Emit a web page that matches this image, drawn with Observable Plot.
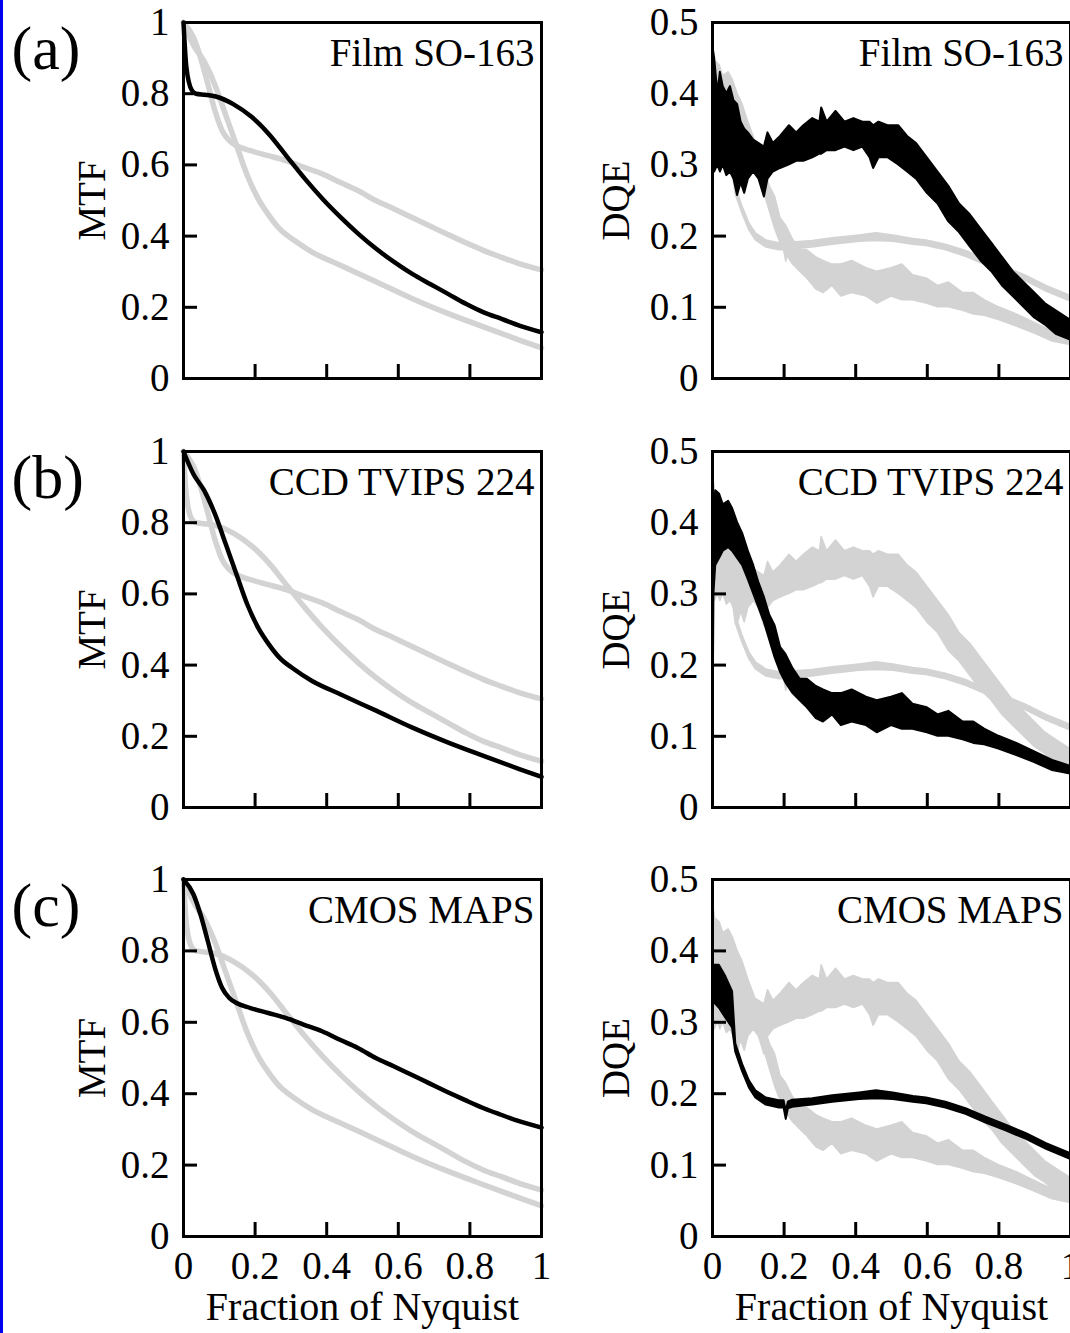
<!DOCTYPE html>
<html><head><meta charset="utf-8">
<script src="https://cdn.jsdelivr.net/npm/d3@7"></script>
<script src="https://cdn.jsdelivr.net/npm/@observablehq/plot@0.6"></script>
<style>
html,body{margin:0;padding:0;background:#fff;overflow:hidden}
#page{position:relative;width:1070px;height:1333px;overflow:hidden;background:#fff}
#page svg{position:absolute;overflow:visible}
#edge{position:absolute;left:0;top:0;width:3px;height:1333px;background:#0000f0;z-index:5}
</style></head><body><div id="page"><div id="edge"></div></div>
<script>
// ---------- data ----------
const xTicks = [0, 0.2, 0.4, 0.6, 0.8, 1];
const mtfTicks = [0, 0.2, 0.4, 0.6, 0.8, 1];
const dqeTicks = [0, 0.1, 0.2, 0.3, 0.4, 0.5];
const panelLetters = ["(a)", "(b)", "(c)"];
const detectorNames = ["Film SO-163", "CCD TVIPS 224", "CMOS MAPS"];
const xLabel = "Fraction of Nyquist";

// MTF curves
const filmMtfX = [0, 0.008, 0.023, 0.035, 0.06, 0.09, 0.14, 0.19, 0.24, 0.29, 0.34, 0.39, 0.44, 0.49, 0.54, 0.59, 0.64, 0.69, 0.74, 0.79, 0.84, 0.89, 0.94, 1.0];
const filmMtfY = [1.0, 0.875, 0.81, 0.80, 0.797, 0.792, 0.77, 0.735, 0.685, 0.622, 0.56, 0.503, 0.452, 0.405, 0.363, 0.326, 0.293, 0.265, 0.237, 0.209, 0.185, 0.167, 0.148, 0.13];
const ccdMtfX = [0, 0.028, 0.058, 0.088, 0.118, 0.148, 0.178, 0.208, 0.238, 0.268, 0.308, 0.358, 0.438, 0.538, 0.638, 0.738, 0.838, 0.938, 1.0];
const ccdMtfY = [1.0, 0.936, 0.89, 0.824, 0.74, 0.655, 0.571, 0.506, 0.459, 0.421, 0.389, 0.356, 0.318, 0.272, 0.225, 0.183, 0.145, 0.108, 0.086];
const cmosMtfX = [0, 0.028, 0.048, 0.068, 0.088, 0.108, 0.128, 0.148, 0.187, 0.237, 0.287, 0.337, 0.387, 0.437, 0.487, 0.537, 0.587, 0.637, 0.687, 0.737, 0.787, 0.837, 0.887, 0.937, 1.0];
const cmosMtfY = [1.0, 0.958, 0.90, 0.827, 0.752, 0.696, 0.668, 0.654, 0.64, 0.626, 0.612, 0.593, 0.575, 0.551, 0.528, 0.50, 0.477, 0.453, 0.429, 0.405, 0.382, 0.36, 0.341, 0.323, 0.305];

// DQE curves: noisy, given as lower / upper envelope
const filmDqeX  = [0, 0.006, 0.015, 0.022, 0.03, 0.04, 0.05, 0.06, 0.07, 0.08, 0.09, 0.1, 0.115, 0.13, 0.145, 0.155, 0.17, 0.19, 0.215, 0.235, 0.255, 0.28, 0.3, 0.305, 0.32, 0.345, 0.37, 0.395, 0.42, 0.44, 0.45, 0.465, 0.49, 0.52, 0.545, 0.57, 0.6, 0.63, 0.66, 0.69, 0.72, 0.75, 0.78, 0.81, 0.84, 0.87, 0.9, 0.93, 0.96, 1.0];
const filmDqeLo = [0.29, 0.29, 0.30, 0.29, 0.30, 0.285, 0.29, 0.28, 0.257, 0.275, 0.26, 0.28, 0.29, 0.28, 0.255, 0.28, 0.29, 0.295, 0.30, 0.305, 0.305, 0.31, 0.315, 0.315, 0.32, 0.32, 0.325, 0.32, 0.325, 0.31, 0.295, 0.31, 0.31, 0.30, 0.29, 0.28, 0.26, 0.245, 0.22, 0.205, 0.185, 0.165, 0.15, 0.13, 0.115, 0.10, 0.085, 0.075, 0.062, 0.054];
const filmDqeHi = [0.47, 0.45, 0.40, 0.43, 0.41, 0.40, 0.41, 0.39, 0.385, 0.36, 0.35, 0.345, 0.335, 0.33, 0.325, 0.345, 0.33, 0.34, 0.355, 0.345, 0.355, 0.365, 0.36, 0.38, 0.36, 0.375, 0.36, 0.365, 0.36, 0.36, 0.355, 0.36, 0.355, 0.355, 0.34, 0.33, 0.31, 0.29, 0.27, 0.245, 0.23, 0.21, 0.19, 0.17, 0.15, 0.135, 0.12, 0.105, 0.095, 0.082];
const ccdDqeX  = [0, 0.004, 0.009, 0.02, 0.03, 0.045, 0.056, 0.07, 0.084, 0.1, 0.115, 0.13, 0.145, 0.16, 0.175, 0.19, 0.205, 0.225, 0.245, 0.265, 0.29, 0.31, 0.335, 0.36, 0.39, 0.43, 0.46, 0.5, 0.53, 0.56, 0.6, 0.63, 0.66, 0.7, 0.73, 0.76, 0.8, 0.85, 0.9, 0.95, 1.0];
const ccdDqeLo = [0, 0.30, 0.34, 0.35, 0.36, 0.365, 0.36, 0.35, 0.34, 0.32, 0.30, 0.28, 0.26, 0.235, 0.21, 0.19, 0.175, 0.16, 0.15, 0.14, 0.125, 0.12, 0.13, 0.115, 0.12, 0.115, 0.105, 0.115, 0.11, 0.11, 0.105, 0.10, 0.10, 0.095, 0.09, 0.088, 0.082, 0.073, 0.063, 0.052, 0.047];
const ccdDqeHi = [0, 0.40, 0.445, 0.44, 0.425, 0.43, 0.42, 0.40, 0.385, 0.36, 0.34, 0.315, 0.295, 0.27, 0.255, 0.225, 0.215, 0.195, 0.18, 0.18, 0.17, 0.165, 0.16, 0.16, 0.165, 0.155, 0.15, 0.155, 0.16, 0.145, 0.14, 0.13, 0.135, 0.12, 0.12, 0.11, 0.10, 0.09, 0.078, 0.066, 0.058];
const cmosDqeX  = [0, 0.019, 0.037, 0.056, 0.065, 0.084, 0.103, 0.121, 0.15, 0.187, 0.2, 0.206, 0.212, 0.224, 0.28, 0.336, 0.411, 0.458, 0.505, 0.561, 0.598, 0.652, 0.708, 0.764, 0.82, 0.877, 0.933, 1.0];
const cmosDqeLo = [0.33, 0.32, 0.306, 0.292, 0.258, 0.231, 0.208, 0.194, 0.184, 0.180, 0.180, 0.164, 0.179, 0.181, 0.184, 0.188, 0.192, 0.193, 0.192, 0.188, 0.186, 0.180, 0.171, 0.159, 0.148, 0.136, 0.122, 0.108];
const cmosDqeHi = [0.38, 0.38, 0.364, 0.343, 0.27, 0.241, 0.218, 0.204, 0.194, 0.190, 0.190, 0.175, 0.188, 0.191, 0.193, 0.197, 0.201, 0.204, 0.201, 0.196, 0.194, 0.188, 0.179, 0.167, 0.156, 0.144, 0.130, 0.116];

// ---------- tables ----------
const mtfTable = (xs, ys) => xs.map((x, i) => ({x, y: ys[i]}));
const dqeTable = (xs, lo, hi) => xs.map((x, i) => ({x, lo: lo[i], hi: hi[i]}));
const detectors = [
  {mtf: mtfTable(filmMtfX, filmMtfY), dqe: dqeTable(filmDqeX, filmDqeLo, filmDqeHi)},
  {mtf: mtfTable(ccdMtfX, ccdMtfY), dqe: dqeTable(ccdDqeX, ccdDqeLo, ccdDqeHi)},
  {mtf: mtfTable(cmosMtfX, cmosMtfY), dqe: dqeTable(cmosDqeX, cmosDqeLo, cmosDqeHi)}
];

// ---------- layout ----------
const FONT = "'Liberation Serif', 'Times New Roman', Times, serif";
const GRAY = "#d3d3d3";
const FS = 39;
const frameTops = [22, 451, 879];
const frameHeights = [356, 356, 357];
const ML = 183, MT = 22, PW = 358;
const page = document.getElementById("page");
const fmt = d => String(d);

function panel(row, kind) {
  const isM = kind === "MTF";
  const last = row === 2;
  const marks = [];
  detectors.forEach((d, i) => {
    if (i === row) return;
    marks.push(isM
      ? Plot.line(d.mtf, {x: "x", y: "y", stroke: GRAY, strokeWidth: 5.5, curve: "monotone-x"})
      : Plot.areaY(d.dqe, {x: "x", y1: "lo", y2: "hi", fill: GRAY, stroke: GRAY, strokeWidth: 1.5}));
  });
  const own = detectors[row];
  marks.push(isM
    ? Plot.line(own.mtf, {x: "x", y: "y", stroke: "black", strokeWidth: 4.5, curve: "monotone-x"})
    : Plot.areaY(own.dqe, {x: "x", y1: "lo", y2: "hi", fill: "black", stroke: "black", strokeWidth: 2}));
  marks.push(
    Plot.frame({stroke: "black", strokeWidth: 3}),
    Plot.axisY(isM ? mtfTicks : dqeTicks, {tickSize: -14, tickPadding: 28, strokeWidth: 3, fontSize: FS, label: null, tickFormat: fmt}),
    Plot.axisX(xTicks, {tickSize: -14, tickPadding: 28.5, strokeWidth: 3, fontSize: FS, label: null,
      tickFormat: last ? fmt : (() => "")}),
    Plot.text([isM ? "MTF" : "DQE"], {frameAnchor: "left", dx: isM ? -91 : -96, rotate: -90, textAnchor: "middle", lineAnchor: "middle", fontSize: FS}),
    Plot.text([detectorNames[row]], {frameAnchor: "top-right", dx: -7, dy: 31, textAnchor: "end", lineAnchor: "middle", fontSize: FS})
  );
  if (isM) marks.push(Plot.text([panelLetters[row]], {frameAnchor: "top-left", dx: -172, dy: 27, textAnchor: "start", lineAnchor: "middle", fontSize: 62}));
  if (last) marks.push(Plot.text([xLabel], {frameAnchor: "bottom", dy: 71, textAnchor: "middle", lineAnchor: "middle", fontSize: 40}));

  const mb = last ? 100 : 30;
  const chart = Plot.plot({
    width: ML + PW + 12,
    height: MT + frameHeights[row] + mb,
    marginLeft: ML, marginRight: 12, marginTop: MT, marginBottom: mb,
    x: {domain: [0, 1]},
    y: {domain: isM ? [0, 1] : [0, 0.5]},
    style: {fontFamily: FONT, fontSize: FS + "px", color: "black", background: "transparent", overflow: "visible", maxWidth: "none"},
    marks
  });
  chart.style.left = (isM ? 0 : 712 - ML) + "px";
  chart.style.top = (frameTops[row] - MT) + "px";
  page.appendChild(chart);
}
for (let r = 0; r < 3; r++) { panel(r, "MTF"); panel(r, "DQE"); }
</script>
</body></html>
